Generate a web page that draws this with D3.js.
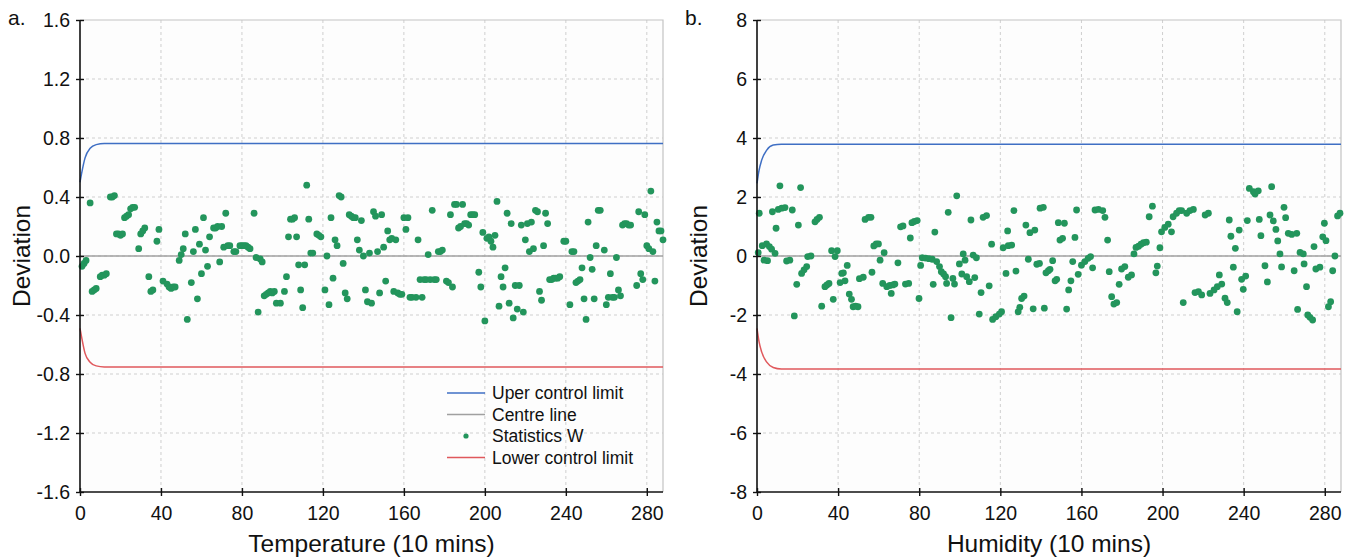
<!DOCTYPE html>
<html>
<head>
<meta charset="utf-8">
<script src="https://cdn.jsdelivr.net/npm/d3@7"></script>
<style>
  body { margin: 0; background: #fff; }
  svg text { font-family: "Liberation Sans", Arial, Helvetica, sans-serif; fill: #111; }
</style>
</head>
<body>
<svg id="chart" width="1355" height="559"></svg>
<script>
// ---- data ----
const xTicks = [0, 40, 80, 120, 160, 200, 240, 280];
const xMax = 288;
const tempYTicks = [-1.6, -1.2, -0.8, -0.4, 0, 0.4, 0.8, 1.2, 1.6];
const humYTicks = [-8, -6, -4, -2, 0, 2, 4, 6, 8];

// control limits of the temperature chart: [sample, deviation]
const tempUCL = [[0, 0.50], [0.8, 0.56], [2.5, 0.665], [5, 0.73], [8, 0.755], [12, 0.763], [288, 0.763]];
const tempLCL = [[0, -0.49], [0.8, -0.55], [2.5, -0.66], [5, -0.72], [8, -0.745], [12, -0.752], [288, -0.752]];
const tempCentre = [[0, 0], [288, 0]];

// statistics W of the temperature chart: [sample, deviation]
const tempW = [
  [1,-0.07],[2,-0.05],[3,-0.03],[5,0.36],[6,-0.24],[7,-0.23],[8,-0.22],[10,-0.14],[11,-0.13],[12,-0.13],
  [13,-0.12],[15,0.40],[16,0.40],[17,0.41],[18,0.15],[19,0.15],[20,0.14],[21,0.15],[22,0.26],[23,0.27],
  [24,0.28],[25,0.32],[26,0.33],[27,0.33],[29,0.05],[30,0.15],[31,0.17],[32,0.19],[34,-0.14],[35,-0.24],
  [36,-0.23],[38,0.10],[39,0.18],[41,-0.17],[43,-0.19],[44,-0.21],[45,-0.22],[46,-0.21],[47,-0.21],[49,-0.03],
  [50,0.01],[51,0.05],[52,0.15],[53,-0.43],[55,-0.18],[56,0.03],[57,0.18],[58,-0.29],[59,0.08],[60,-0.12],
  [61,0.26],[62,0.04],[63,-0.07],[64,0.13],[66,0.19],[67,0.19],[68,0.20],[69,-0.04],[70,0.20],[71,0.06],
  [72,0.29],[73,0.07],[74,0.07],[76,0.03],[77,0.03],[79,0.07],[80,0.07],[81,0.07],[82,0.07],[83,0.06],
  [84,0.05],[86,0.29],[87,-0.01],[88,-0.38],[89,-0.02],[90,-0.04],[91,-0.27],[92,-0.26],[93,-0.25],[94,-0.24],
  [95,-0.25],[96,-0.24],[97,-0.32],[99,-0.32],[101,-0.24],[102,-0.14],[103,0.13],[104,0.25],[105,0.25],[106,0.26],
  [107,0.13],[108,-0.06],[109,-0.23],[110,-0.35],[111,-0.06],[112,0.48],[113,0.25],[114,0.02],[115,0.02],[117,0.15],
  [118,0.14],[119,0.13],[121,-0.23],[122,0.00],[123,-0.33],[124,0.26],[125,-0.15],[126,0.11],[127,0.07],[128,0.41],
  [129,0.40],[130,-0.05],[131,-0.25],[132,-0.29],[133,0.28],[134,0.27],[135,0.26],[136,0.26],[137,0.11],[138,0.04],
  [139,0.24],[140,0.00],[141,-0.23],[142,-0.31],[143,0.02],[144,-0.32],[145,0.30],[146,0.27],[147,0.03],[148,-0.25],
  [149,0.28],[150,0.06],[151,-0.17],[152,0.17],[153,0.11],[154,0.12],[155,-0.24],[156,0.11],[157,-0.25],[158,-0.26],
  [159,-0.26],[160,0.26],[161,0.18],[162,0.26],[163,-0.28],[164,-0.28],[166,-0.28],[167,0.11],[168,-0.16],[169,-0.28],
  [170,-0.16],[171,-0.16],[172,0.01],[173,-0.16],[174,0.31],[175,-0.16],[176,-0.16],[177,0.03],[178,0.03],[179,0.04],
  [181,-0.17],[182,-0.18],[183,0.28],[184,-0.21],[185,0.35],[186,0.35],[187,0.19],[188,0.20],[189,0.35],[190,0.22],
  [191,0.22],[192,0.21],[193,0.28],[194,0.28],[195,0.28],[197,-0.11],[198,-0.21],[199,0.16],[200,-0.44],[201,0.12],
  [202,0.13],[203,0.10],[204,0.06],[205,0.14],[206,0.37],[207,-0.34],[208,-0.14],[209,-0.21],[210,-0.08],[211,0.29],
  [212,-0.32],[213,0.22],[214,-0.42],[215,-0.20],[216,-0.36],[217,-0.20],[218,0.21],[219,-0.38],[220,0.11],[221,0.22],
  [222,0.03],[223,0.23],[224,0.05],[225,0.31],[226,0.30],[227,-0.24],[228,-0.30],[229,0.07],[230,0.29],[231,0.22],
  [232,-0.16],[233,-0.16],[234,-0.15],[235,-0.15],[236,-0.15],[237,-0.14],[239,0.10],[240,0.10],[242,-0.33],[243,0.03],
  [244,0.03],[245,-0.18],[246,-0.17],[247,-0.16],[248,-0.08],[249,-0.29],[250,-0.43],[251,0.23],[252,-0.01],[253,-0.09],
  [254,-0.29],[255,0.07],[256,0.31],[257,0.31],[259,0.04],[260,-0.33],[261,-0.28],[262,-0.12],[263,-0.28],[264,-0.28],
  [265,-0.01],[266,-0.23],[267,-0.27],[268,0.21],[269,0.22],[270,0.22],[271,0.21],[272,0.21],[275,-0.20],[276,0.30],
  [277,-0.12],[278,-0.16],[279,0.28],[280,0.07],[281,0.05],[282,0.44],[283,0.03],[284,-0.17],[285,0.23],[286,0.17],
  [287,0.17],[288,0.11]
];

// control limits of the humidity chart
const humUCL = [[0, 2.46], [1, 2.9], [2.3, 3.25], [4.8, 3.59], [8, 3.76], [12, 3.79], [288, 3.79]];
const humLCL = [[0, -2.45], [1, -2.9], [2.3, -3.25], [4.8, -3.6], [8, -3.78], [12, -3.83], [288, -3.83]];
const humCentre = [[0, 0], [288, 0]];

// statistics W of the humidity chart
const humW = [
  [0.6,0.11],[1.1,1.45],[2.6,0.35],[3.5,-0.14],[4.7,0.41],[5.2,-0.16],[6.1,0.32],[7.2,0.23],[7.6,1.50],[8.9,0.09],
  [9.4,0.94],[10.5,1.58],[11.3,2.38],[12.2,1.62],[13.8,1.64],[14.6,-0.17],[16.2,-0.14],[17.4,1.56],[18.4,-2.03],[19.6,-0.96],
  [20.4,1.05],[21.5,2.32],[22,-0.59],[23.2,-0.47],[24.5,-0.36],[25,-0.02],[26.6,0],[28.6,1.16],[29.6,1.24],[30.8,1.31],
  [31.9,-1.70],[33.5,-1.04],[34.5,-0.98],[35.5,-0.93],[36.8,0.18],[37.6,-1.47],[38.5,-0.02],[39.6,0.18],[41,-0.90],[41.8,-0.59],
  [42.6,-0.57],[43.4,-0.84],[44.5,-0.32],[45.5,-1.29],[46.6,-1.47],[47.4,-1.72],[48.6,-1.70],[49.8,-1.72],[50.5,-0.77],[52.4,-0.72],
  [53.3,1.24],[55,1.31],[56.2,1.31],[56.7,-0.55],[57.6,0.34],[58.8,0.41],[59.9,0.41],[60.7,-0.14],[62,-0.93],[62.7,0.11],
  [64,-1.04],[65.5,-1.00],[66.2,-1.27],[67,-0.98],[68,-0.95],[69.5,-0.23],[70.8,0.99],[72,1.02],[73.2,-0.95],[74.8,-0.93],
  [75.6,0.61],[76.4,1.13],[77.6,1.17],[79,1.20],[79.9,-1.44],[80.7,-0.32],[81.5,-0.06],[83.1,-0.07],[84.8,-0.09],[86.4,-0.11],
  [86.9,-0.96],[87.7,0.81],[88.6,-0.19],[90,-0.36],[90.9,-0.53],[92,-0.61],[93,-0.70],[93.5,-0.93],[94.3,1.48],[95.7,-2.09],
  [96.6,-0.76],[97.4,-0.95],[98.5,2.04],[99.8,-0.27],[101,-0.61],[101.7,0.07],[102.6,-0.14],[103.4,-0.70],[104.7,-0.87],[105.5,1.22],
  [106.6,0.03],[107.4,-0.73],[108.2,-0.06],[109.6,-1.97],[110.5,-1.24],[111.5,1.31],[113.2,1.37],[114.5,-1.01],[115.7,0.40],[116.2,-2.15],
  [117.8,-2.06],[119.5,-1.97],[120.6,-1.89],[121.4,0.28],[122.8,-0.59],[123.6,0.85],[123.9,0.35],[125.6,0.37],[126.7,1.54],[127.7,-0.51],
  [128.8,-1.89],[129.6,-1.74],[130.5,-1.44],[131.7,-1.36],[132.6,1.05],[133.8,-0.11],[134.6,0.79],[136.2,-1.79],[137,0.88],[138,-0.28],
  [139.3,-0.25],[139.6,1.62],[141.2,1.65],[141.7,-1.77],[142.5,-0.57],[143.7,-0.50],[144.5,-0.45],[145.8,-0.16],[147,-0.84],[147.8,-0.79],
  [148.6,1.13],[149.4,0.54],[150.7,0.60],[151.6,1.11],[152.7,-1.80],[153.7,-1.15],[154.8,-0.84],[155.7,-0.19],[156.8,0.63],[157.6,1.56],
  [158.4,-0.62],[160,-0.31],[161.7,-0.19],[163.3,-0.08],[164.5,-0.02],[165.5,-0.40],[166.7,1.56],[168.4,1.58],[170.5,1.54],[171.6,1.31],
  [172.9,0.54],[173.7,-0.53],[174.9,-1.38],[176,-1.63],[177.4,-1.58],[178.6,-0.96],[179.8,-0.44],[181.4,-0.36],[183.1,-0.72],[184.7,-0.64],
  [185.9,0.07],[186.9,0.29],[188.2,0.33],[189.4,0.40],[190.6,0.45],[192,0.47],[193.4,1.33],[195,1.69],[196.7,-0.57],[197.4,-0.34],
  [198.7,0.28],[199.5,0.82],[201.1,0.97],[202.8,1.08],[204.4,0.82],[205.2,1.33],[206.9,1.45],[208.2,1.54],[209.4,1.54],[210.2,-1.58],
  [211.9,1.45],[213.5,1.54],[215.2,1.58],[216,-1.24],[217.7,-1.21],[219.3,-1.32],[221,1.39],[222.6,1.45],[223.4,-1.27],[225.4,-1.15],
  [227,-1.04],[228,-0.64],[229.2,-0.95],[230.8,-1.43],[231.9,-1.58],[232.9,1.22],[233.7,0.67],[234.9,-0.38],[235.9,0.26],[236.8,-1.89],
  [237.8,0.88],[239,-0.79],[239.8,-1.13],[241,-0.68],[241.8,1.20],[242.8,2.29],[244.8,2.18],[245.6,2.10],[247.2,2.21],[247.7,1.24],
  [248.5,0.69],[250.5,-0.33],[251.7,-0.88],[253,1.39],[253.8,2.35],[254.6,1.19],[255.9,0.90],[256.8,0.51],[257.9,0.07],[258.7,-0.37],
  [259.9,1.65],[260.7,1.30],[262,0.77],[263.7,0.73],[264.9,-0.50],[266.2,0.77],[266.6,-1.81],[267.8,0.12],[269.4,0.07],[269.8,-0.27],
  [271,-1.04],[271.6,-2.0],[272.7,-2.08],[274,-2.17],[274.7,0.32],[275.6,-0.44],[277.6,-0.38],[279,0.65],[279.8,1.11],[280.6,0.52],
  [281.8,-1.72],[282.9,-1.55],[283.9,-0.50],[285,0.0],[286.3,1.36],[287.5,1.45]
];

const legendItems = [
  { label: "Uper control limit", kind: "line", color: "#3f6fc4" },
  { label: "Centre line", kind: "line", color: "#a0a0a0" },
  { label: "Statistics W", kind: "dot", color: "#23955c" },
  { label: "Lower control limit", kind: "line", color: "#e0585c" }
];

// ---- drawing ----
const svg = d3.select("#chart");
const COLORS = { ucl: "#3f6fc4", lcl: "#e0585c", centre: "#a0a0a0", dot: "#23955c", grid: "#cfcfcf", frame: "#c4c4c4" };

function drawPanel(p) {
  const x = d3.scaleLinear().domain([0, xMax]).range([p.left, p.right]);
  const y = d3.scaleLinear().domain([p.yTicks[0], p.yTicks[p.yTicks.length - 1]]).range([p.bottom, p.top]);
  const g = svg.append("g");

  // plot background
  g.append("rect").attr("x", p.left).attr("y", p.top)
    .attr("width", p.right - p.left).attr("height", p.bottom - p.top).attr("fill", "#fdfdfd");

  // dashed grid
  g.append("g").selectAll("line").data(xTicks.filter(d => d > 0)).join("line")
    .attr("x1", d => x(d)).attr("x2", d => x(d)).attr("y1", p.top).attr("y2", p.bottom)
    .attr("stroke", COLORS.grid).attr("stroke-width", 1).attr("stroke-dasharray", "3,3");
  g.append("g").selectAll("line").data(p.yTicks.slice(1, -1)).join("line")
    .attr("x1", p.left).attr("x2", p.right).attr("y1", d => y(d)).attr("y2", d => y(d))
    .attr("stroke", COLORS.grid).attr("stroke-width", 1).attr("stroke-dasharray", "3,3");

  // frame top / right
  g.append("path")
    .attr("d", `M${p.left},${p.top}H${p.right}V${p.bottom}`)
    .attr("fill", "none").attr("stroke", COLORS.frame).attr("stroke-width", 1.2);

  const line = d3.line().x(d => x(d[0])).y(d => y(d[1])).curve(d3.curveMonotoneX);
  g.append("path").datum(p.centre).attr("d", line).attr("fill", "none")
    .attr("stroke", COLORS.centre).attr("stroke-width", 1.4);
  g.append("path").datum(p.ucl).attr("d", line).attr("fill", "none")
    .attr("stroke", COLORS.ucl).attr("stroke-width", 1.5);
  g.append("path").datum(p.lcl).attr("d", line).attr("fill", "none")
    .attr("stroke", COLORS.lcl).attr("stroke-width", 1.5);

  g.append("g").selectAll("circle").data(p.points).join("circle")
    .attr("cx", d => x(d[0])).attr("cy", d => y(d[1])).attr("r", 3.4)
    .attr("fill", COLORS.dot);

  // axes
  const yAxis = g.append("g").attr("transform", `translate(${p.left},0)`)
    .call(d3.axisLeft(y).tickValues(p.yTicks).tickFormat(p.fmt).tickSize(4).tickPadding(6));
  const xAxis = g.append("g").attr("transform", `translate(0,${p.bottom})`)
    .call(d3.axisBottom(x).tickValues(xTicks).tickFormat(d => d).tickSize(4).tickPadding(5));
  [yAxis, xAxis].forEach(a => {
    a.select(".domain").attr("stroke", "#111").attr("stroke-width", 1.6);
    a.selectAll(".tick line").attr("stroke", "#111").attr("stroke-width", 1.4);
    a.selectAll(".tick text").attr("font-size", 19.5).attr("fill", "#111")
      .style("font-family", '"Liberation Sans", Arial, sans-serif');
  });
  yAxis.select(".domain").attr("d", `M0,${p.bottom}V${p.top}`);
  xAxis.select(".domain").attr("d", `M${p.left},0H${p.right}`);
  yAxis.selectAll(".tick line").attr("x1", 4);
  xAxis.selectAll(".tick line").attr("y1", -4);
  xAxis.selectAll(".tick text").attr("dy", "0.95em");

  // titles
  g.append("text").attr("transform", `translate(${p.left - 59},${(p.top + p.bottom) / 2}) rotate(-90)`)
    .attr("text-anchor", "middle").attr("dy", "0.35em").attr("font-size", 24.5).text("Deviation");
  g.append("text").attr("x", (p.left + p.right) / 2).attr("y", 552)
    .attr("text-anchor", "middle").attr("font-size", 24.5).text(p.xTitle);
  g.append("text").attr("x", p.left - 72).attr("y", 25).attr("font-size", 21).text(p.tag);

  return { x, y, g };
}

drawPanel({
  left: 80, right: 663, top: 20, bottom: 492,
  yTicks: tempYTicks, fmt: d => d.toFixed(1),
  ucl: tempUCL, lcl: tempLCL, centre: tempCentre, points: tempW,
  xTitle: "Temperature (10 mins)", tag: "a."
});
drawPanel({
  left: 757, right: 1341, top: 20, bottom: 492,
  yTicks: humYTicks, fmt: d => String(d),
  ucl: humUCL, lcl: humLCL, centre: humCentre, points: humW,
  xTitle: "Humidity (10 mins)", tag: "b."
});

// legend in panel a
const lg = svg.append("g").attr("transform", "translate(447,393)");
legendItems.forEach((item, i) => {
  const row = lg.append("g").attr("transform", `translate(0,${i * 21.5})`);
  if (item.kind === "line") {
    row.append("line").attr("x1", 0).attr("x2", 38).attr("y1", 0).attr("y2", 0)
      .attr("stroke", item.color).attr("stroke-width", 1.6);
  } else {
    row.append("circle").attr("cx", 19).attr("cy", 0).attr("r", 2.6).attr("fill", item.color);
  }
  row.append("text").attr("x", 45).attr("y", 0).attr("dy", "0.35em")
    .attr("font-size", 17.5).text(item.label);
});
</script>
</body>
</html>
